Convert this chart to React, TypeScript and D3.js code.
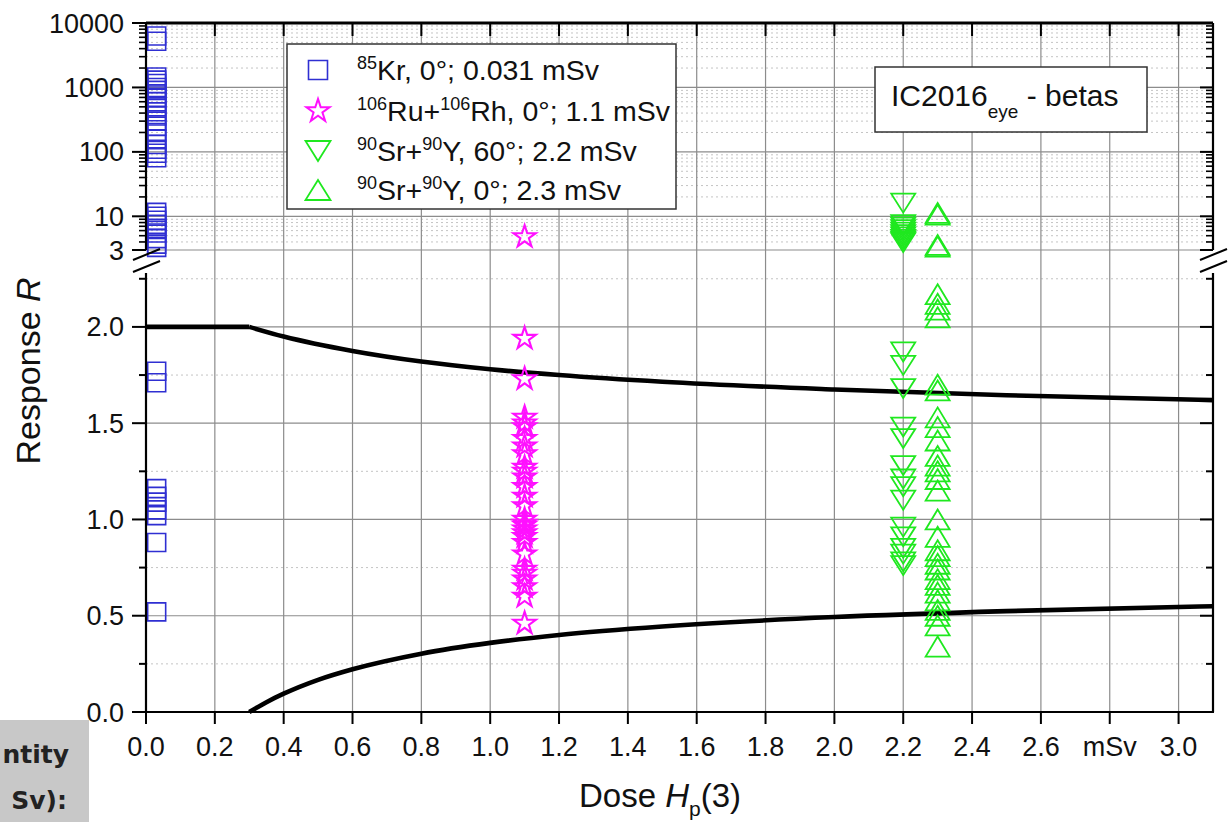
import React from "react";
import * as d3 from "d3";

// ---------- data ----------
const xTicks = [0, 0.2, 0.4, 0.6, 0.8, 1.0, 1.2, 1.4, 1.6, 1.8, 2.0, 2.2, 2.4, 2.6, 2.8, 3.0];
const xTickLabels = ["0.0", "0.2", "0.4", "0.6", "0.8", "1.0", "1.2", "1.4", "1.6", "1.8", "2.0", "2.2", "2.4", "2.6", "mSv", "3.0"];
const yLowMajor = [0, 0.5, 1.0, 1.5, 2.0];
const yLowMajorLabels = ["0.0", "0.5", "1.0", "1.5", "2.0"];
const yLowMinor = [0.25, 0.75, 1.25, 1.75, 2.25];
const yUpMajor = [3, 10, 100, 1000, 10000];
const yUpMajorLabels = ["3", "10", "100", "1000", "10000"];

const krDose = 0.031;
const krValues = [6300, 5200, 1450, 1300, 1150, 1000, 900, 800, 700, 600, 500, 420, 360, 300, 250, 200, 160, 130, 110, 95, 81,
  11.5, 10, 8.7, 7.5, 6.5, 5.5, 4.5, 3.7, 3.3,
  1.77, 1.71, 1.16, 1.12, 1.09, 1.05, 1.02, 0.88, 0.52];

const ruDose = 1.1;
const ruValues = [4.8, 1.94, 1.73, 1.53, 1.5, 1.48, 1.42, 1.38, 1.34, 1.27, 1.25, 1.22, 1.17, 1.12, 1.07, 1.0, 0.98, 0.97,
  0.95, 0.93, 0.91, 0.88, 0.82, 0.74, 0.72, 0.69, 0.65, 0.6, 0.46];

const sr60Dose = 2.2;
const sr60Values = [16, 7.4, 6.8, 6.2, 5.7, 5.2, 4.8, 4.4, 4.1, 3.9,
  1.87, 1.8, 1.68, 1.48, 1.42, 1.28, 1.21, 1.17, 1.1, 0.96, 0.91, 0.85, 0.82, 0.78, 0.76];

const sr0Dose = 2.3;
const sr0Values = [11.3, 10.6, 3.6, 3.4,
  2.17, 2.12, 2.09, 2.05, 1.7, 1.67, 1.53, 1.48, 1.41, 1.33, 1.28, 1.25, 1.21, 1.15, 1.0, 0.91, 0.84, 0.81,
  0.77, 0.74, 0.69, 0.66, 0.62, 0.58, 0.53, 0.5, 0.45, 0.34];

const upperFlatDose = [0, 0.3];
const upperFlatR = [2.0, 2.0];
const upperLimitDose = [0.3, 0.4, 0.6, 0.8, 1.0, 1.2, 1.5, 2.0, 2.5, 3.1];
const upperLimitR = [2.0, 1.95, 1.875, 1.82, 1.78, 1.75, 1.715, 1.675, 1.645, 1.62];
const lowerLimitDose = [0.3, 0.35, 0.4, 0.5, 0.6, 0.8, 1.0, 1.2, 1.5, 2.0, 2.5, 3.1];
const lowerLimitR = [0, 0.051, 0.095, 0.167, 0.222, 0.303, 0.359, 0.4, 0.444, 0.493, 0.524, 0.549];

// ---------- layout ----------
const W = 1230, H = 822;
const L = 146, R = 1213, T = 23, B = 712;
const upBottom = 250, lowTop = 273;
const FONT = "'Liberation Sans', Arial, Helvetica, sans-serif";
const BLUE = "#2f2fd2", MAGENTA = "#ff10ff", GREEN = "#1fe81f";

const x = d3.scaleLinear().domain([0, 3.1]).range([L, R]);
const yLow = d3.scaleLinear().domain([0, 2.28]).range([B, lowTop]);
const yUp = d3.scaleLog().domain([3, 10000]).range([upBottom, T]);
const yPos = (v: number) => (v <= 2.5 ? yLow(v) : yUp(v));

const upMinor: number[] = [];
[1, 10, 100, 1000].forEach((dec) => {
  for (let k = 2; k <= 9; k++) {
    const v = dec * k;
    if (v > 3 && v < 10000 && v !== 10 && v !== 100 && v !== 1000) upMinor.push(v);
  }
});

const sqPath = (s: number) => `M${-s / 2},${-s / 2}h${s}v${s}h${-s}Z`;
const triDown = (w: number, h: number) => `M${-w / 2},${-h / 2}L${w / 2},${-h / 2}L0,${h / 2}Z`;
const triUp = (w: number, h: number) => `M0,${-h / 2}L${w / 2},${h / 2}L${-w / 2},${h / 2}Z`;
const starPath = (size: number) => d3.symbol(d3.symbolStar, size)() as string;

const curve = d3.line<[number, number]>().x((d) => x(d[0])).y((d) => yLow(d[1])).curve(d3.curveMonotoneX);
const straight = d3.line<[number, number]>().x((d) => x(d[0])).y((d) => yLow(d[1]));

export default function App() {
  const zip = (a: number[], b: number[]) => a.map((d, i) => [d, b[i]] as [number, number]);
  const sq = sqPath(18), st = starPath(155), td = triDown(24, 19), tu = triUp(24, 20);
  const SUP = 18, SD = 11.5;

  return (
    <svg width={W} height={H} style={{ position: "absolute", left: 0, top: 0, background: "#fff" }} fontFamily={FONT}>
      <rect x={0} y={0} width={W} height={H} fill="#fff" />
      {/* minor grid */}
      {yLowMinor.map((v) => (
        <line key={"lm" + v} x1={L} x2={R} y1={yLow(v)} y2={yLow(v)} stroke="#c4c4c4" strokeWidth={1} strokeDasharray="2,3" />
      ))}
      {upMinor.map((v) => (
        <line key={"um" + v} x1={L} x2={R} y1={yUp(v)} y2={yUp(v)} stroke="#c4c4c4" strokeWidth={1} strokeDasharray="2,3" />
      ))}
      {/* major grid */}
      {xTicks.filter((t) => t > 0).map((t) => (
        <line key={"vg" + t} x1={x(t)} x2={x(t)} y1={T} y2={B} stroke="#8c8c8c" strokeWidth={1.2} />
      ))}
      {yLowMajor.filter((v) => v > 0).map((v) => (
        <line key={"lg" + v} x1={L} x2={R} y1={yLow(v)} y2={yLow(v)} stroke="#8c8c8c" strokeWidth={1.2} />
      ))}
      {yUpMajor.filter((v) => v < 10000).map((v) => (
        <line key={"ug" + v} x1={L} x2={R} y1={yUp(v)} y2={yUp(v)} stroke="#8c8c8c" strokeWidth={1.2} />
      ))}

      {/* limit curves */}
      <g fill="none" stroke="#000" strokeWidth={4.6} strokeLinejoin="round">
        <path d={straight(zip(upperFlatDose, upperFlatR)) as string} />
        <path d={curve(zip(upperLimitDose, upperLimitR)) as string} />
        <path d={curve(zip(lowerLimitDose, lowerLimitR)) as string} />
      </g>

      {/* data */}
      <g fill="none" stroke={BLUE} strokeWidth={1.6}>
        {krValues.map((v, i) => (
          <path key={"kr" + i} d={sq} transform={`translate(${x(krDose)},${yPos(v)})`} />
        ))}
      </g>
      <g fill="none" stroke={MAGENTA} strokeWidth={2.1}>
        {ruValues.map((v, i) => (
          <path key={"ru" + i} d={st} transform={`translate(${x(ruDose)},${yPos(v)})`} />
        ))}
      </g>
      <g fill="none" stroke={GREEN} strokeWidth={1.8}>
        {sr60Values.map((v, i) => (
          <path key={"s6" + i} d={td} transform={`translate(${x(sr60Dose)},${yPos(v)})`} />
        ))}
        {sr0Values.map((v, i) => (
          <path key={"s0" + i} d={tu} transform={`translate(${x(sr0Dose)},${yPos(v)})`} />
        ))}
      </g>

      {/* axes lines */}
      <g stroke="#000" strokeWidth={2.2} fill="none">
        <line x1={L} x2={R} y1={T} y2={T} strokeWidth={3} />
        <line x1={L - 1} x2={R + 1} y1={B} y2={B} />
        <line x1={L} x2={L} y1={T} y2={upBottom} />
        <line x1={L} x2={L} y1={lowTop} y2={B} />
        <line x1={R} x2={R} y1={T} y2={upBottom} />
        <line x1={R} x2={R} y1={lowTop} y2={B} />
      </g>
      {/* break marks */}
      <g stroke="#000" strokeWidth={2}>
        {[L, R].map((bx) => (
          <g key={"br" + bx}>
            <line x1={bx - 13} x2={bx + 14} y1={upBottom + 10} y2={upBottom - 1} />
            <line x1={bx - 13} x2={bx + 14} y1={upBottom + 22} y2={upBottom + 11} />
          </g>
        ))}
      </g>

      {/* ticks */}
      <g stroke="#000" strokeWidth={2}>
        {xTicks.map((t) => (
          <line key={"bt" + t} x1={x(t)} x2={x(t)} y1={B} y2={B + 12} />
        ))}
        {xTicks.filter((t) => t > 0).map((t) => (
          <line key={"tt" + t} x1={x(t)} x2={x(t)} y1={T} y2={T + 13} />
        ))}
        {yLowMajor.map((v) => (
          <g key={"lt" + v}>
            <line x1={L - 14} x2={L} y1={yLow(v)} y2={yLow(v)} />
            {v > 0 && <line x1={R - 13} x2={R} y1={yLow(v)} y2={yLow(v)} />}
          </g>
        ))}
        {yLowMinor.map((v) => (
          <g key={"ltm" + v}>
            <line x1={L - 7} x2={L} y1={yLow(v)} y2={yLow(v)} />
            <line x1={R - 7} x2={R} y1={yLow(v)} y2={yLow(v)} />
          </g>
        ))}
        {yUpMajor.map((v) => (
          <g key={"ut" + v}>
            <line x1={L - 14} x2={L} y1={yUp(v)} y2={yUp(v)} />
            <line x1={R - 13} x2={R} y1={yUp(v)} y2={yUp(v)} />
          </g>
        ))}
        {upMinor.map((v) => (
          <g key={"utm" + v}>
            <line x1={L - 7} x2={L} y1={yUp(v)} y2={yUp(v)} strokeWidth={1.6} />
            <line x1={R - 7} x2={R} y1={yUp(v)} y2={yUp(v)} strokeWidth={1.6} />
          </g>
        ))}
      </g>

      {/* tick labels */}
      <g fontSize={27} fill="#111">
        {xTicks.map((t, i) => (
          <text key={"xl" + t} x={x(t)} y={756} textAnchor="middle">{xTickLabels[i]}</text>
        ))}
        {yLowMajor.map((v, i) => (
          <text key={"yl" + v} x={124} y={yLow(v) + 9.5} textAnchor="end">{yLowMajorLabels[i]}</text>
        ))}
        {yUpMajor.map((v, i) => (
          <text key={"yu" + v} x={124} y={yUp(v) + 9.5} textAnchor="end">{yUpMajorLabels[i]}</text>
        ))}
      </g>

      {/* axis titles */}
      <text transform={`translate(40,371) rotate(-90)`} textAnchor="middle" fontSize={34} fill="#111">
        Response <tspan fontStyle="italic">R</tspan>
      </text>
      <text x={660} y={807} textAnchor="middle" fontSize={33} fill="#111">
        Dose <tspan fontStyle="italic">H</tspan><tspan fontSize={21} dy={9}>p</tspan><tspan dy={-9}>(3)</tspan>
      </text>

      {/* legend */}
      <rect x={287} y={44} width={389} height={165} fill="#fff" stroke="#333" strokeWidth={1.5} />
      <g fill="none" strokeWidth={1.6}>
        <path d={sqPath(19)} transform="translate(318,70)" stroke={BLUE} />
        <path d={starPath(165)} transform="translate(318,111)" stroke={MAGENTA} strokeWidth={2} />
        <path d={triDown(25, 20)} transform="translate(318,151)" stroke={GREEN} strokeWidth={1.8} />
        <path d={triUp(25, 20)} transform="translate(318,190)" stroke={GREEN} strokeWidth={1.8} />
      </g>
      <g fontSize={28.5} fill="#111">
        <text x={357} y={80}>
          <tspan fontSize={SUP} dy={-SD}>85</tspan><tspan dy={SD}>Kr, 0°; 0.031 mSv</tspan>
        </text>
        <text x={357} y={121}>
          <tspan fontSize={SUP} dy={-SD}>106</tspan><tspan dy={SD}>Ru+</tspan><tspan fontSize={SUP} dy={-SD}>106</tspan><tspan dy={SD}>Rh, 0°; 1.1 mSv</tspan>
        </text>
        <text x={357} y={161}>
          <tspan fontSize={SUP} dy={-SD}>90</tspan><tspan dy={SD}>Sr+</tspan><tspan fontSize={SUP} dy={-SD}>90</tspan><tspan dy={SD}>Y, 60°; 2.2 mSv</tspan>
        </text>
        <text x={357} y={200}>
          <tspan fontSize={SUP} dy={-SD}>90</tspan><tspan dy={SD}>Sr+</tspan><tspan fontSize={SUP} dy={-SD}>90</tspan><tspan dy={SD}>Y, 0°; 2.3 mSv</tspan>
        </text>
      </g>

      {/* title box */}
      <rect x={875} y={67} width={272} height={65} fill="#fff" stroke="#333" strokeWidth={1.5} />
      <text x={891} y={106} fontSize={30} fill="#111">
        IC2016<tspan fontSize={19} dy={12}>eye</tspan><tspan dy={-12}> - betas</tspan>
      </text>

      {/* cropped box bottom-left */}
      <rect x={0} y={720} width={89} height={102} fill="#c8c8c8" />
      <g fontFamily="'DejaVu Sans', Verdana, sans-serif" fontWeight="bold" fontSize={25} fill="#222" textAnchor="end">
        <text x={69} y={763}>ntity</text>
        <text x={67} y={809}>Sv):</text>
      </g>
    </svg>
  );
}
